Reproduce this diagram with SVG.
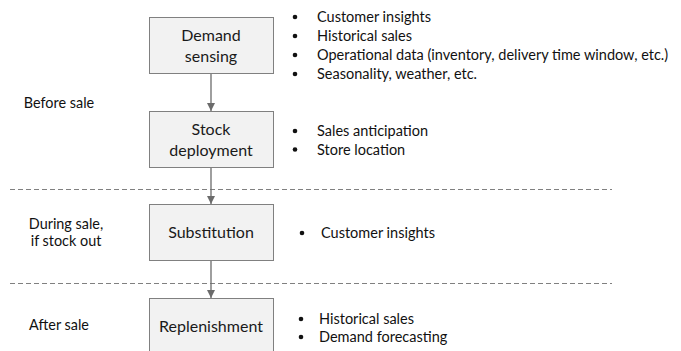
<svg xmlns="http://www.w3.org/2000/svg" width="681" height="351" viewBox="0 0 681 351">
<defs>
<marker id="ah" markerWidth="8" markerHeight="8" refX="8" refY="4" orient="auto" markerUnits="userSpaceOnUse">
<path d="M0,0 L8,4 L0,8 Z" fill="#6b6b6b"/>
</marker>
<style>
.box{fill:#f2f2f2;stroke:#808080;stroke-width:1}
.bt{font-family:Lato,"Liberation Sans",sans-serif;font-size:16px;fill:#1a1a1a;text-anchor:middle}
.t{font-family:Lato,"Liberation Sans",sans-serif;font-size:14.5px;fill:#111111}
.lbl{font-family:Lato,"Liberation Sans",sans-serif;font-size:14.4px;fill:#111111;text-anchor:middle}
.dash{stroke:#808080;stroke-width:1;stroke-dasharray:5,3;fill:none}
.conn{stroke:#6b6b6b;stroke-width:1.3;fill:none;marker-end:url(#ah)}
.dot{fill:#111111}
</style>
</defs>
<rect width="681" height="351" fill="#ffffff"/>
<g id="separators">
<line class="dash" x1="10" y1="189.5" x2="612" y2="189.5"/>
<line class="dash" x1="10" y1="283.5" x2="612" y2="283.5"/>
</g>
<g id="phases">
<text class="lbl" x="59" y="108">Before sale</text>
<text class="lbl" x="66" y="229">During sale,</text>
<text class="lbl" x="66" y="246">if stock out</text>
<text class="lbl" x="59" y="330">After sale</text>
</g>
<g id="connectors">
<line class="conn" x1="211" y1="73" x2="211" y2="111"/>
<line class="conn" x1="211" y1="167" x2="211" y2="204"/>
<line class="conn" x1="211" y1="261" x2="211" y2="298"/>
</g>
<g id="demand-sensing">
<rect class="box" x="149.5" y="17.5" width="124" height="56"/>
<text class="bt" x="211" y="41">Demand</text>
<text class="bt" x="211" y="62">sensing</text>
<circle class="dot" cx="295" cy="17" r="2.3"/>
<circle class="dot" cx="295" cy="36" r="2.3"/>
<circle class="dot" cx="295" cy="55" r="2.3"/>
<circle class="dot" cx="295" cy="74" r="2.3"/>
<text class="t" x="317" y="22">Customer insights</text>
<text class="t" x="317" y="41">Historical sales</text>
<text class="t" x="317" y="60">Operational data (inventory, delivery time window, etc.)</text>
<text class="t" x="317" y="79">Seasonality, weather, etc.</text>
</g>
<g id="stock-deployment">
<rect class="box" x="149.5" y="111.5" width="124" height="56"/>
<text class="bt" x="211" y="135">Stock</text>
<text class="bt" x="211" y="156">deployment</text>
<circle class="dot" cx="295" cy="131" r="2.3"/>
<circle class="dot" cx="295" cy="149.5" r="2.3"/>
<text class="t" x="317" y="136">Sales anticipation</text>
<text class="t" x="317" y="154.5">Store location</text>
</g>
<g id="substitution">
<rect class="box" x="149.5" y="204.5" width="124" height="56"/>
<text class="bt" x="211" y="238">Substitution</text>
<circle class="dot" cx="302" cy="233" r="2.3"/>
<text class="t" x="321" y="238">Customer insights</text>
</g>
<g id="replenishment">
<rect class="box" x="149.5" y="298.5" width="124" height="60"/>
<text class="bt" x="211" y="332">Replenishment</text>
<circle class="dot" cx="301" cy="319" r="2.3"/>
<circle class="dot" cx="301" cy="337" r="2.3"/>
<text class="t" x="319" y="324">Historical sales</text>
<text class="t" x="319" y="342">Demand forecasting</text>
</g>
</svg>
